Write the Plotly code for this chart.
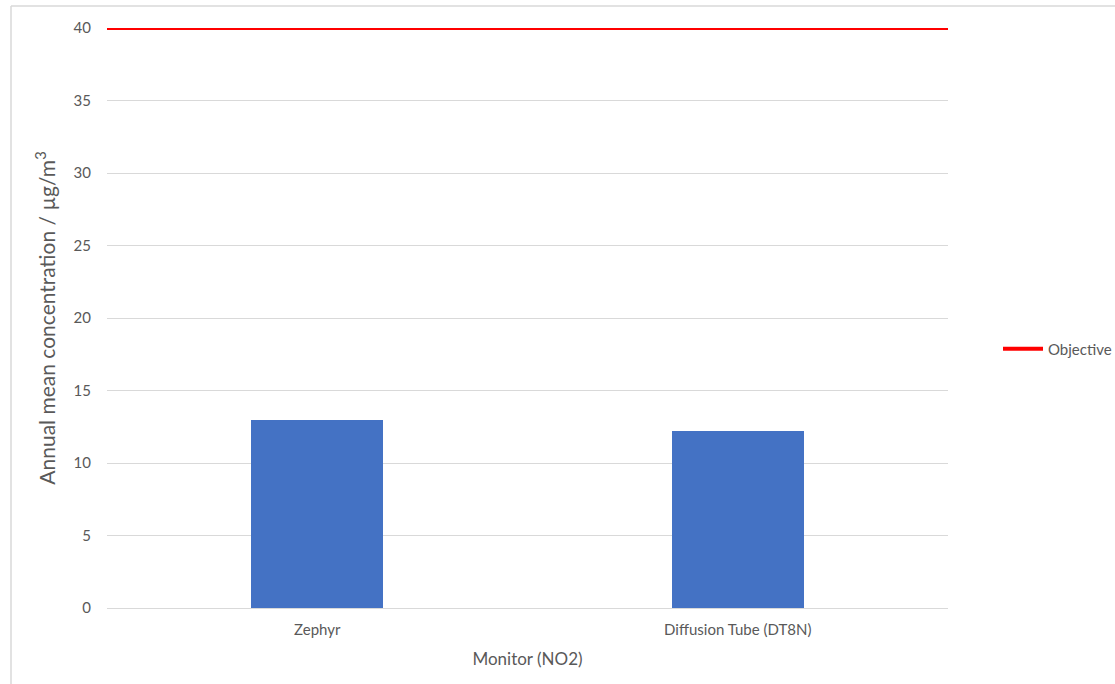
import plotly.graph_objects as go

categories = ["Zephyr", "Diffusion Tube (DT8N)"]
annual_mean = [13.0, 12.2]
objective_value = 40
y_ticks = [0, 5, 10, 15, 20, 25, 30, 35, 40]

W, H = 1115, 684
ml, mr, mt, mb = 107, 167, 28, 76
pw, ph = W - ml - mr, H - mt - mb

xs = list(range(len(categories)))
fig = go.Figure()
fig.add_trace(go.Bar(x=xs, y=annual_mean, width=0.314, marker=dict(color="#4472C4", line=dict(width=0)),
                     showlegend=False, name="Annual mean"))
fig.add_trace(go.Scatter(x=[xs[0] - 0.5, xs[-1] + 0.5], y=[objective_value, objective_value],
                         mode="lines", line=dict(color="#FF0000", width=4), name="Objective"))

gray = "#595959"
fig.update_layout(
    width=W, height=H,
    margin=dict(l=ml, r=mr, t=mt, b=mb, pad=0),
    paper_bgcolor="white", plot_bgcolor="white",
    font=dict(family="Lato, Open Sans, sans-serif", color=gray),
    xaxis=dict(range=[-0.5, len(categories) - 0.5], tickvals=xs, ticktext=categories,
               showgrid=False, zeroline=False, showline=True, linecolor="#D9D9D9", linewidth=1,
               ticks="", ticklabelstandoff=8, tickfont=dict(size=15, color=gray),
               title=dict(text="Monitor (NO2)", font=dict(size=17, color=gray), standoff=16)),
    yaxis=dict(range=[0, 40], tickvals=y_ticks, showgrid=True, gridcolor="#D9D9D9", gridwidth=1,
               zeroline=False, showline=False, ticks="", ticklabelstandoff=15,
               tickfont=dict(size=15, color=gray),
               title=dict(text="Annual mean concentration / µg/m<sup>3</sup>", font=dict(size=21, color=gray), standoff=12)),
    legend=dict(xref="container", yref="container", x=998 / W, y=1 - 349 / H,
                xanchor="left", yanchor="middle",
                itemwidth=40, font=dict(size=15, color=gray), bgcolor="rgba(0,0,0,0)"),
    bargap=0,
)
# frame lines of the chart area
fig.add_shape(type="line", xref="paper", yref="paper",
              x0=(11 - ml) / pw, x1=(11 - ml) / pw, y0=1 + (mt - 6) / ph, y1=-(H - mt - ph) / ph - 0.01,
              line=dict(color="#D9D9D9", width=1.5))
fig.add_shape(type="line", xref="paper", yref="paper",
              x0=(11 - ml) / pw, x1=(W - ml) / pw + 0.01, y0=1 + (mt - 6) / ph, y1=1 + (mt - 6) / ph,
              line=dict(color="#D9D9D9", width=1.5))

fig.write_html("out.html", config={"displayModeBar": False},
               post_script="document.body.style.margin='0px';document.body.style.overflow='hidden';")
